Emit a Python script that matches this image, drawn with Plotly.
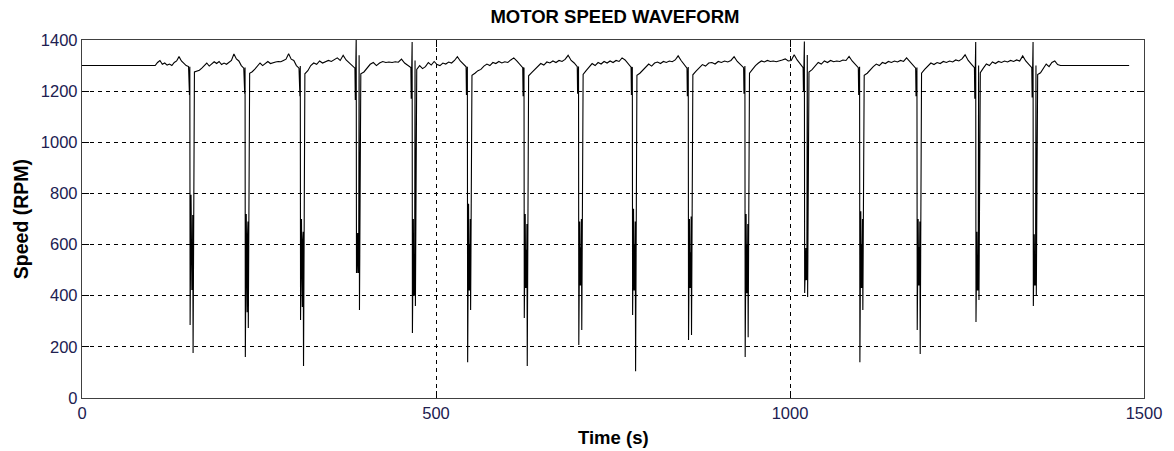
import numpy as np
import plotly.graph_objects as go

# ---- data -----------------------------------------------------------------
# idle plateau before the motor starts cycling, and the hold after it stops
lead_time = [0, 100]
lead_speed = [1300, 1300]
hold_start = 1382
hold_end = 1479
hold_speed = 1300

# one entry per load dip: start time (s) and the speed levels the trace
# passes through during the dip (RPM)
dip_start = [151, 229, 307, 386, 465, 543, 623, 700, 776, 855, 935, 1019, 1097, 1178, 1261, 1342]
dip_shelf = [1185, 1190, 1180, 1165, 1170, 1185, 1180, 1190, 1185, 1180, 1190, 1200, 1185, 1180, 1170, 1175]
dip_peak = [1295, 1292, 1298, 1410, 1392, 1295, 1290, 1296, 1292, 1294, 1298, 1394, 1295, 1292, 1392, 1392]
dip_low1 = [285, 160, 305, 489, 254, 140, 313, 207, 325, 227, 160, 411, 140, 266, 297, 360]
dip_mid1 = [795, 720, 700, 645, 700, 760, 720, 690, 740, 700, 720, 587, 730, 700, 650, 640]
dip_blk_hi = [567, 610, 600, 645, 560, 600, 580, 590, 600, 570, 600, 587, 600, 590, 560, 560]
dip_blk_lo = [422, 335, 356, 489, 400, 420, 430, 440, 420, 430, 410, 461, 430, 440, 420, 440]
dip_mid2 = [716, 690, 650, 1340, 1320, 700, 680, 700, 690, 710, 680, 1341, 700, 690, 1300, 1300]
dip_low2 = [176, 274, 125, 344, 360, 344, 125, 266, 105, 246, 238, 395, 344, 172, 383, 403]
dip_post = [1275, 1270, 1268, 1268, 1285, 1262, 1260, 1265, 1262, 1264, 1270, 1275, 1262, 1270, 1272, 1265]

# time offsets (s) of the dip samples relative to dip_start
dip_offsets = [0.0, 0.4, 0.8, 1.3, 1.7, 3.0, 3.3, 3.6, 3.9, 4.2, 4.5, 4.8, 5.4, 5.9, 7.8]

# speed ripple between dips (RPM), evenly sampled over each run
run_speeds = [
    [1300, 1312, 1320, 1305, 1310, 1302, 1306, 1300, 1312, 1318, 1335, 1318, 1310, 1300, 1296],
    [1278, 1282, 1290, 1300, 1310, 1298, 1306, 1315, 1308, 1316, 1304, 1310, 1305, 1312, 1320, 1345, 1326, 1318, 1300, 1290],
    [1276, 1286, 1300, 1310, 1300, 1310, 1316, 1308, 1312, 1314, 1316, 1315, 1320, 1325, 1346, 1325, 1320, 1300, 1290],
    [1280, 1300, 1310, 1305, 1318, 1310, 1315, 1320, 1316, 1322, 1330, 1320, 1340, 1322, 1310, 1300, 1290],
    [1275, 1290, 1305, 1312, 1300, 1310, 1316, 1312, 1314, 1312, 1315, 1313, 1325, 1310, 1300, 1292],
    [1300, 1288, 1296, 1312, 1302, 1316, 1304, 1300, 1310, 1306, 1314, 1310, 1320, 1335, 1318, 1305, 1295],
    [1270, 1280, 1285, 1298, 1306, 1300, 1312, 1308, 1316, 1310, 1315, 1312, 1322, 1330, 1318, 1304, 1292],
    [1272, 1285, 1296, 1308, 1302, 1314, 1310, 1318, 1312, 1320, 1316, 1324, 1340, 1320, 1310, 1296],
    [1280, 1294, 1308, 1300, 1312, 1306, 1316, 1310, 1318, 1312, 1320, 1316, 1330, 1322, 1306, 1294],
    [1270, 1282, 1298, 1306, 1298, 1310, 1314, 1308, 1316, 1312, 1318, 1315, 1322, 1338, 1320, 1305, 1290],
    [1278, 1292, 1304, 1298, 1310, 1312, 1306, 1316, 1312, 1318, 1314, 1320, 1335, 1316, 1302, 1292],
    [1285, 1300, 1310, 1318, 1314, 1320, 1316, 1318, 1315, 1320, 1322, 1326, 1318, 1320, 1342, 1322, 1305, 1292],
    [1284, 1300, 1312, 1306, 1318, 1312, 1320, 1315, 1318, 1316, 1322, 1320, 1336, 1318, 1304, 1292],
    [1270, 1284, 1296, 1306, 1300, 1312, 1308, 1316, 1312, 1318, 1314, 1320, 1316, 1330, 1316, 1302, 1290],
    [1285, 1298, 1310, 1304, 1312, 1308, 1316, 1312, 1318, 1314, 1322, 1318, 1326, 1342, 1320, 1306, 1292],
    [1290, 1306, 1300, 1314, 1308, 1316, 1312, 1318, 1314, 1320, 1316, 1322, 1318, 1338, 1318, 1304, 1292],
    [1272, 1290, 1306, 1296, 1312, 1318, 1304, 1300],
]

x_ticks = [0, 500, 1000, 1500]
y_ticks = [0, 200, 400, 600, 800, 1000, 1200, 1400]

# ---- assemble the trace ---------------------------------------------------
time = list(lead_time)
speed = list(lead_speed)
run_from = lead_time[-1]
for k, run in enumerate(run_speeds):
    run_to = dip_start[k] - 0.5 if k < len(dip_start) else hold_start
    time.extend(np.linspace(run_from, run_to, len(run) + 1)[1:].tolist())
    speed.extend(run)
    if k < len(dip_start):
        hi, lo = dip_blk_hi[k], dip_blk_lo[k]
        levels = [dip_shelf[k], run[-1], dip_shelf[k], dip_peak[k], dip_low1[k],
                  dip_mid1[k], hi, lo, hi, lo, hi, lo,
                  dip_mid2[k], dip_low2[k], dip_post[k]]
        time.extend([dip_start[k] + o for o in dip_offsets])
        speed.extend(levels)
        run_from = dip_start[k] + dip_offsets[-1]
time.extend([hold_start, hold_end])
speed.extend([hold_speed, hold_speed])

# ---- figure -----------------------------------------------------------------
fig = go.Figure()
fig.add_trace(go.Scatter(
    x=time, y=speed, mode="lines",
    line=dict(color="#000000", width=1.1),
    hoverinfo="skip", showlegend=False,
))

tick_font = dict(family="Liberation Sans, Arial, sans-serif", size=16.5, color="#202050")
label_font = dict(family="Liberation Sans, Arial, sans-serif", size=18.5, color="#000000", weight="bold")
ylabel_font = dict(family="Liberation Sans, Arial, sans-serif", size=19.5, color="#000000", weight="bold")

axis_common = dict(
    showline=True, linecolor="#404040", linewidth=1.3, mirror="ticks",
    ticks="inside", ticklen=7, tickwidth=1, tickcolor="#000000",
    showgrid=True, gridcolor="#000000", gridwidth=1, griddash="4px,4px",
    zeroline=False, tickfont=tick_font,
)

fig.update_xaxes(range=[0, 1500], tickvals=x_ticks, ticktext=[str(v) for v in x_ticks], **axis_common)
fig.update_yaxes(range=[0, 1400], tickvals=y_ticks, ticktext=[str(v) for v in y_ticks], **axis_common)

fig.update_layout(
    width=1174, height=451,
    margin=dict(l=82, r=26, t=40, b=53),
    paper_bgcolor="#ffffff", plot_bgcolor="#ffffff",
    title=dict(text="MOTOR SPEED WAVEFORM", x=615 / 1174, xanchor="center",
               y=1 - 17 / 451, yanchor="middle", yref="container", font=label_font),
    annotations=[
        dict(text="Time (s)", xref="paper", yref="paper", x=0.5, y=-(437 - 398) / 358,
             xanchor="center", yanchor="middle", showarrow=False, font=label_font),
        dict(text="Speed (RPM)", xref="paper", yref="paper", x=(21 - 82) / 1066, y=0.5,
             xanchor="center", yanchor="middle", textangle=-90, showarrow=False, font=ylabel_font),
    ],
)

fig.write_html("out.html")
